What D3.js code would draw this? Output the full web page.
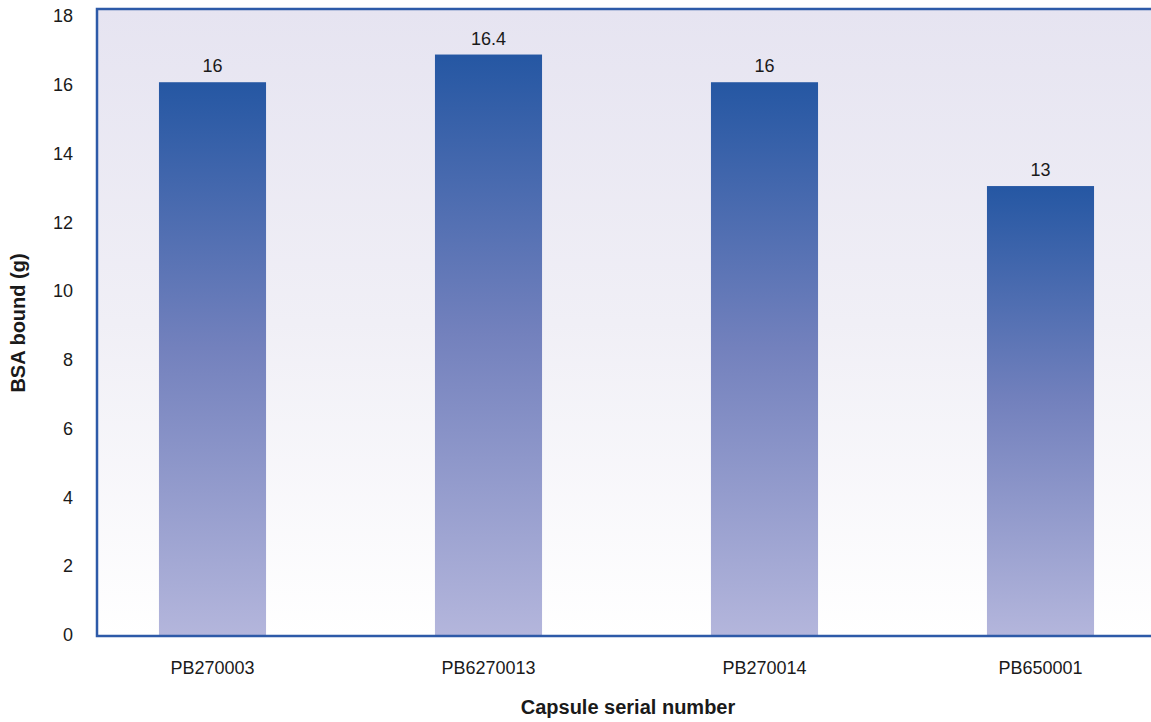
<!DOCTYPE html>
<html>
<head>
<meta charset="utf-8">
<script src="https://cdn.jsdelivr.net/npm/d3@7"></script>
<style>
  body { margin: 0; background: #ffffff; }
  svg { display: block; font-family: "Liberation Sans", Arial, Helvetica, sans-serif; }
</style>
</head>
<body>
<svg id="chart" width="1151" height="722"></svg>
<script>
const categories = ["PB270003", "PB6270013", "PB270014", "PB650001"];
// bar heights as drawn in the picture (second bar is drawn at ~16.8 though labelled 16.4)
const values = [16, 16.8, 16, 13];
const valueLabels = ["16", "16.4", "16", "13"];
const yTicks = [0, 2, 4, 6, 8, 10, 12, 14, 16, 18];
const yTitle = "BSA bound (g)";
const xTitle = "Capsule serial number";

const svg = d3.select("#chart");
const plot = { left: 97, right: 1151, top: 9, bottom: 636 };

const y = d3.scaleLinear().domain([0, 18]).range([636, 13]);
const yLabel = d3.scaleLinear().domain([0, 18]).range([635, 16]);
const x = d3.scaleBand().domain(categories).range([74.5, 1178.5])
  .paddingInner(0.612).paddingOuter(0.306);

const defs = svg.append("defs");
const bg = defs.append("linearGradient").attr("id", "bgGrad")
  .attr("x1", 0).attr("y1", 0).attr("x2", 0).attr("y2", 1);
bg.append("stop").attr("offset", "0%").attr("stop-color", "#e6e4f1");
bg.append("stop").attr("offset", "50%").attr("stop-color", "#f0eff6");
bg.append("stop").attr("offset", "100%").attr("stop-color", "#ffffff");

const bar = defs.append("linearGradient").attr("id", "barGrad")
  .attr("x1", 0).attr("y1", 0).attr("x2", 0).attr("y2", 1);
bar.append("stop").attr("offset", "0%").attr("stop-color", "#2557a3");
bar.append("stop").attr("offset", "48%").attr("stop-color", "#7381bd");
bar.append("stop").attr("offset", "100%").attr("stop-color", "#b4b6dc");

svg.append("rect")
  .attr("x", plot.left).attr("y", plot.top)
  .attr("width", plot.right - plot.left).attr("height", plot.bottom - plot.top)
  .attr("fill", "url(#bgGrad)");

svg.selectAll("rect.bar").data(values).enter().append("rect")
  .attr("class", "bar")
  .attr("x", (d, i) => x(categories[i]))
  .attr("y", d => y(d))
  .attr("width", x.bandwidth())
  .attr("height", d => y(0) - y(d))
  .attr("fill", "url(#barGrad)");

svg.selectAll("text.val").data(values).enter().append("text")
  .attr("class", "val")
  .attr("x", (d, i) => x(categories[i]) + x.bandwidth() / 2)
  .attr("y", d => y(d) - 10)
  .attr("text-anchor", "middle")
  .attr("font-size", 18)
  .attr("fill", "#1a1a1a")
  .text((d, i) => valueLabels[i]);

const frameColor = "#2d5aa8";
svg.append("path")
  .attr("d", `M${plot.right + 2},${plot.top} H${plot.left} V${plot.bottom} H${plot.right + 2}`)
  .attr("fill", "none").attr("stroke", frameColor).attr("stroke-width", 2.5);

const yAxis = d3.axisLeft(yLabel).tickValues(yTicks).tickSize(0).tickPadding(0).tickFormat(d3.format("d"));
const yg = svg.append("g").attr("transform", "translate(73,0)").call(yAxis);
yg.select(".domain").remove();
yg.selectAll("text").attr("font-size", 18).attr("fill", "#1a1a1a")
  .attr("font-family", "Liberation Sans, Arial, sans-serif");

const xAxis = d3.axisBottom(x).tickSize(0).tickPadding(0);
const xg = svg.append("g").attr("transform", "translate(0,661)").call(xAxis);
xg.select(".domain").remove();
xg.selectAll("text").attr("font-size", 18).attr("fill", "#1a1a1a")
  .attr("font-family", "Liberation Sans, Arial, sans-serif");

svg.append("text")
  .attr("x", 628).attr("y", 714)
  .attr("text-anchor", "middle")
  .attr("font-size", 20).attr("font-weight", "bold").attr("fill", "#1a1a1a")
  .text(xTitle);

svg.append("text")
  .attr("transform", "translate(25,323) rotate(-90)")
  .attr("text-anchor", "middle")
  .attr("font-size", 20).attr("font-weight", "bold").attr("fill", "#1a1a1a")
  .text(yTitle);
</script>
</body>
</html>
